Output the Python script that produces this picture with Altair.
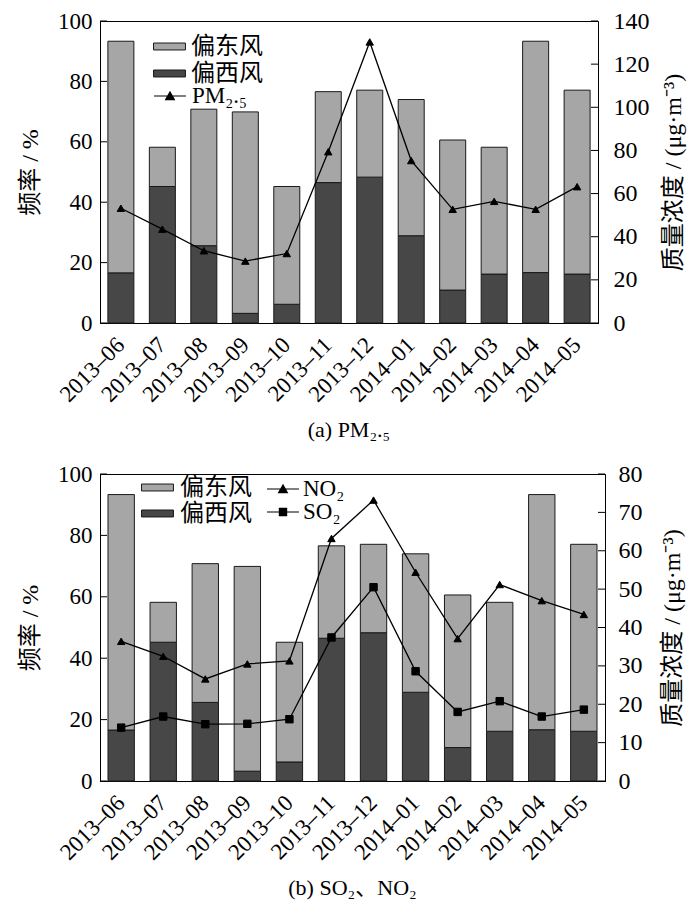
import altair as alt
import pandas as pd

months = ["2013–06", "2013–07", "2013–08", "2013–09", "2013–10", "2013–11",
          "2013–12", "2014–01", "2014–02", "2014–03", "2014–04", "2014–05"]
# 偏西风 (dark, bottom) and 偏东风 (light, stacked on top) frequencies, %
west = [16.6, 45.2, 25.6, 3.2, 6.2, 46.5, 48.3, 28.9, 10.9, 16.2, 16.7, 16.2]
east = [76.7, 13.0, 45.2, 66.7, 39.0, 30.1, 28.8, 45.1, 49.7, 42.0, 76.6, 60.9]
# concentrations, ug/m3
pm25 = [53.2, 43.5, 33.5, 28.7, 32.2, 79.4, 130.3, 75.3, 52.7, 56.4, 52.7, 63.2]
no2 = [36.4, 32.5, 26.6, 30.5, 31.3, 63.2, 73.2, 54.4, 37.1, 51.2, 47.0, 43.4]
so2 = [13.9, 16.8, 14.8, 14.9, 16.1, 37.4, 50.5, 28.6, 18.0, 20.8, 16.8, 18.6]

left_ticks = [0, 20, 40, 60, 80, 100]
right_ticks_a = [0, 20, 40, 60, 80, 100, 120, 140]
right_ticks_b = [0, 10, 20, 30, 40, 50, 60, 70, 80]

wind_names = ["偏东风", "偏西风"]
wind_colors = ["#a6a6a6", "#474747"]

FONT = "Liberation Serif, Noto Sans CJK SC, serif"
RECT = "M-1.33,-0.29H1.33V0.29H-1.33Z"
TRI = "M-1.33,0H1.33M-0.36,0.3L0,-0.34L0.36,0.3Z"
SQR = "M-1.33,0H1.33M-0.3,-0.3H0.3V0.3H-0.3Z"

bars_df = pd.DataFrame({
    "month": months * 2,
    "wind": ["偏西风"] * 12 + ["偏东风"] * 12,
    "value": west + east,
    "ord": [0] * 12 + [1] * 12,
})


def xenc():
    return alt.X("month:N", sort=months,
                 scale=alt.Scale(paddingInner=0.373, paddingOuter=0.19),
                 axis=alt.Axis(title=None, labelAngle=315, labelAlign="right",
                               labelBaseline="middle", ticks=False, labelPadding=18,
                               labelFontSize=23, labelFont=FONT))


def sym_legend(path, x, y, lo):
    return alt.Legend(title=None, orient="none", legendX=x, legendY=y,
                      symbolType=path, symbolSize=576,
                      symbolFillColor="black", symbolStrokeColor="black",
                      symbolStrokeWidth=1.2, symbolOpacity=1,
                      labelFont=FONT, labelFontSize=23, labelOffset=lo,
                      padding=0)


def panel(W, H, series, values, shapes, paths, pos, channels, rmax, rticks,
          color_pos, caption, rlabelpad, rtitlepad):
    left_axis = alt.Axis(title="频率 / %", values=left_ticks, ticks=False,
                         labelPadding=8, titlePadding=15, labelFont=FONT,
                         titleFont=FONT, labelFontSize=23, titleFontSize=24)
    left_scale = alt.Scale(domain=[0, 100], nice=False)
    bars = alt.Chart(bars_df).mark_bar(stroke="#1a1a1a", strokeWidth=1).encode(
        x=xenc(),
        y=alt.Y("value:Q", stack="zero", scale=left_scale, axis=left_axis),
        color=alt.Color("wind:N",
                        scale=alt.Scale(domain=wind_names, range=wind_colors),
                        legend=alt.Legend(title=None, orient="none",
                                          legendX=color_pos[0], legendY=color_pos[1],
                                          symbolType=RECT, symbolSize=576,
                                          symbolStrokeColor="#1a1a1a",
                                          symbolStrokeWidth=1, symbolOpacity=1,
                                          labelFont=FONT, labelFontSize=24,
                                          labelOffset=color_pos[2],
                                          rowPadding=color_pos[3], padding=0)),
        order=alt.Order("ord:Q"),
    )
    lticks = alt.Chart(pd.DataFrame({"value": left_ticks})).mark_rule(
        color="black", strokeWidth=1).encode(
        y=alt.Y("value:Q", scale=left_scale, axis=left_axis),
        x=alt.value(0), x2=alt.value(7))
    left = alt.layer(bars, lticks)

    rows = []
    for s, vals in zip(series, values):
        for m, v in zip(months, vals):
            rows.append({"month": m, "series": s, "conc": v})
    ldf = pd.DataFrame(rows)

    right_axis = alt.Axis(orient="right", title="质量浓度 / (μg·m⁻³)",
                          values=rticks, ticks=False, titleAngle=270,
                          titleBaseline="top",
                          labelPadding=rlabelpad, titlePadding=rtitlepad,
                          labelFont=FONT, titleFont=FONT, labelFontSize=24,
                          titleFontSize=24)
    right_scale = alt.Scale(domain=[0, rmax], nice=False)
    yr = alt.Y("conc:Q", scale=right_scale, axis=right_axis)
    line = alt.Chart(ldf).mark_line(color="black", strokeWidth=1.3).encode(
        x=xenc(), y=yr, detail="series:N")
    layers = [line]
    for s, shp, path, p, ch in zip(series, shapes, paths, pos, channels):
        sub = ldf[ldf["series"] == s]
        sc = alt.Scale(domain=[s], range=["black"])
        lg = sym_legend(path, p[0], p[1], p[2])
        if ch == "color":
            enc = {"color": alt.Color("series:N", scale=sc, legend=lg)}
        else:
            enc = {"fill": alt.Fill("series:N", scale=sc, legend=lg)}
        pts = alt.Chart(sub).mark_point(shape=shp, filled=True, stroke="black",
                                        strokeWidth=1, opacity=1, size=55).encode(
            x=xenc(), y=yr, **enc)
        layers.append(pts)
    rt = alt.Chart(pd.DataFrame({"conc": rticks})).mark_rule(
        color="black", strokeWidth=1).encode(
        y=yr, x=alt.value(W - 7), x2=alt.value(W))
    layers.append(rt)
    right = alt.layer(*layers)

    return alt.layer(left, right).resolve_scale(
        y="independent", color="independent").resolve_legend(
        color="independent").properties(
        width=W, height=H,
        title=alt.TitleParams(text=caption, orient="bottom", anchor="middle",
                              font=FONT, fontSize=22, fontWeight="normal",
                              offset=14, color="black"))


pa = panel(498, 302, ["PM₂.₅"], [pm25], ["triangle-up"], [TRI], [(57, 62, 9)],
           ["color"], 140, right_ticks_a, (57, 13, 9, 2), "(a) PM₂.₅", 15, 12)
pb = panel(505, 307, ["NO₂", "SO₂"], [no2, so2], ["triangle-up", "square"],
           [TRI, SQR], [(170, 2, 7), (170, 25, 7)], ["color", "fill"], 80,
           right_ticks_b, (45, 1, 10, 1), "(b) SO₂、NO₂", 13, 18)

chart = alt.vconcat(pa, pb, spacing=19).resolve_scale(
    color="independent", fill="independent").resolve_legend(
    color="independent", fill="independent").properties(
    padding={"left": 10, "top": 0, "right": 5, "bottom": 5}
).configure_view(stroke="black", strokeWidth=1).configure_axis(
    labelFont=FONT, labelFontSize=23, titleFont=FONT, titleFontSize=24,
    titleFontWeight="normal", labelColor="black", titleColor="black",
    domainColor="black", domainWidth=1, grid=False)

chart.save("out.html", embed_options={"renderer": "svg", "actions": False})
